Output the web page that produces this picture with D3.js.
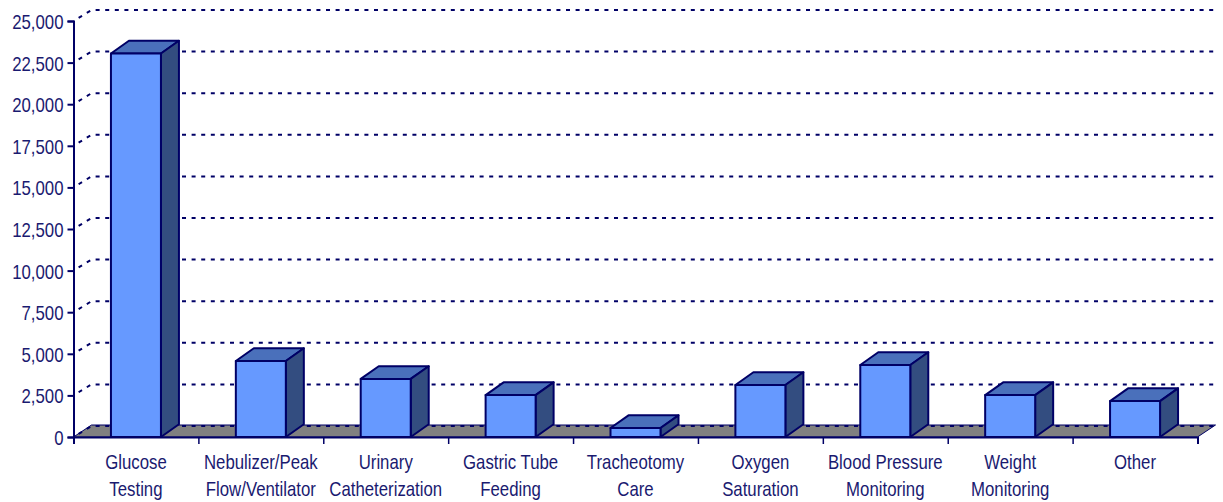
<!DOCTYPE html>
<html>
<head>
<meta charset="utf-8">
<script src="https://cdn.jsdelivr.net/npm/d3@7"></script>
<style>
html, body { margin: 0; padding: 0; background: #fff; }
text { font-family: "Liberation Sans", Arial, sans-serif; font-size: 20px; fill: #1a1a70; }
</style>
</head>
<body>
<div id="chart"></div>
<script>
const WIDTH = 1223, HEIGHT = 502;
const AXIS_LEFT = 73.5, AXIS_RIGHT = 1197.5, AXIS_TOP = 21, AXIS_BOTTOM = 437;
const DEPTH_X = 18, DEPTH_Y = 12; // 3d offset of the back wall
const GRID_DEPTH_Y = 11, BAR_DEPTH_Y = 12.7;
const BAR_W = 50;
const TEXT_SQUEEZE = 0.84; // reference text is condensed Arial

const categories = ["Glucose Testing", "Nebulizer/Peak Flow/Ventilator", "Urinary Catheterization",
    "Gastric Tube Feeding", "Tracheotomy Care", "Oxygen Saturation", "Blood Pressure Monitoring",
    "Weight Monitoring", "Other"];
const labelLines = [["Glucose", "Testing"], ["Nebulizer/Peak", "Flow/Ventilator"], ["Urinary", "Catheterization"],
    ["Gastric Tube", "Feeding"], ["Tracheotomy", "Care"], ["Oxygen", "Saturation"], ["Blood Pressure", "Monitoring"],
    ["Weight", "Monitoring"], ["Other"]];
const values = [23050, 4570, 3490, 2520, 540, 3125, 4330, 2520, 2160];
const yTicks = [0, 2500, 5000, 7500, 10000, 12500, 15000, 17500, 20000, 22500, 25000];

const NAVY = "#000066";
const svg = d3.select("#chart").append("svg")
    .attr("width", WIDTH)
    .attr("height", HEIGHT)
    .style("display", "block");

const x = d3.scaleBand().domain(categories).range([AXIS_LEFT, AXIS_RIGHT]);
const xEdges = d3.scaleLinear().domain([0, categories.length]).range([AXIS_LEFT, AXIS_RIGHT]);
const y = d3.scaleLinear().domain([0, 25000]).range([AXIS_BOTTOM, AXIS_TOP]);

// floor
svg.append("path")
    .attr("d", d3.line()([[AXIS_LEFT, AXIS_BOTTOM], [AXIS_LEFT + DEPTH_X, AXIS_BOTTOM - DEPTH_Y],
        [AXIS_RIGHT + DEPTH_X, AXIS_BOTTOM - DEPTH_Y], [AXIS_RIGHT, AXIS_BOTTOM]]) + "Z")
    .attr("fill", "#808080")
    .attr("stroke", NAVY)
    .attr("stroke-width", 1);

// gridlines: slant up the side wall then along the back wall
svg.append("g").selectAll("path")
    .data(yTicks)
    .join("path")
    .attr("d", d => d3.line()([[AXIS_LEFT, y(d)], [AXIS_LEFT + DEPTH_X, y(d) - GRID_DEPTH_Y], [AXIS_RIGHT + DEPTH_X, y(d) - GRID_DEPTH_Y]]))
    .attr("fill", "none")
    .attr("stroke", NAVY)
    .attr("stroke-width", 2)
    .attr("stroke-dasharray", "4 5.6")
    .attr("stroke-dashoffset", -6);

// bars
const bars = svg.append("g").selectAll("g")
    .data(categories.map((c, i) => ({ c, v: values[i] })))
    .join("g")
    .attr("stroke", NAVY)
    .attr("stroke-width", 2)
    .attr("stroke-linejoin", "round");
const barLeft = d => x(d.c) + (x.bandwidth() - BAR_W) / 2;
bars.append("path") // top
    .attr("fill", "#4a70bb")
    .attr("d", d => d3.line()([[barLeft(d), y(d.v)], [barLeft(d) + DEPTH_X, y(d.v) - BAR_DEPTH_Y],
        [barLeft(d) + BAR_W + DEPTH_X, y(d.v) - BAR_DEPTH_Y], [barLeft(d) + BAR_W, y(d.v)]]) + "Z");
bars.append("path") // side
    .attr("fill", "#334d80")
    .attr("d", d => d3.line()([[barLeft(d) + BAR_W, y(d.v)], [barLeft(d) + BAR_W + DEPTH_X, y(d.v) - BAR_DEPTH_Y],
        [barLeft(d) + BAR_W + DEPTH_X, y(0) - BAR_DEPTH_Y], [barLeft(d) + BAR_W, y(0)]]) + "Z");
bars.append("rect") // front
    .attr("fill", "#6699ff")
    .attr("x", barLeft)
    .attr("y", d => y(d.v))
    .attr("width", BAR_W)
    .attr("height", d => y(0) - y(d.v));

// axes
const yAxisG = svg.append("g")
    .attr("transform", "translate(" + AXIS_LEFT + ",0)")
    .call(d3.axisLeft(y).tickValues(yTicks).tickSize(6).tickPadding(4).tickFormat(d3.format(",")));
yAxisG.selectAll("path, line").attr("stroke", NAVY).attr("stroke-width", 2);
yAxisG.selectAll("text").attr("fill", null)
    .attr("x", -10 / TEXT_SQUEEZE)
    .attr("y", 1)
    .attr("transform", "scale(" + TEXT_SQUEEZE + ",1)");
yAxisG.attr("font-family", null).attr("font-size", null);

const xAxisG = svg.append("g")
    .attr("transform", "translate(0," + AXIS_BOTTOM + ")")
    .call(d3.axisBottom(xEdges).ticks(categories.length).tickSize(7).tickFormat(""));
xAxisG.select("path").attr("stroke", NAVY).attr("stroke-width", 2);
xAxisG.selectAll("line").attr("stroke", NAVY).attr("stroke-width", 1.5);

// category labels, wrapped on two lines
svg.append("g").selectAll("text")
    .data(categories)
    .join("text")
    .attr("text-anchor", "middle")
    .attr("transform", d => "translate(" + (x(d) + x.bandwidth() / 2) + ",469) scale(" + TEXT_SQUEEZE + ",1)")
    .selectAll("tspan")
    .data((d, i) => labelLines[i])
    .join("tspan")
    .attr("x", 0)
    .attr("dy", (d, i) => i === 0 ? 0 : 27)
    .text(d => d);
</script>
</body>
</html>
